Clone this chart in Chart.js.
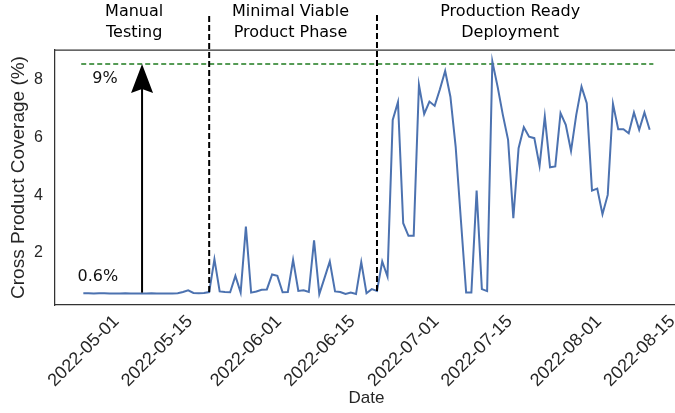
<!DOCTYPE html>
<html>
<head>
<meta charset="utf-8">
<script src="https://cdn.jsdelivr.net/npm/chart.js@4/dist/chart.umd.min.js"></script>
<style>
    html, body { margin: 0; padding: 0; background: #fff; overflow: hidden; }
    #wrap { width: 680px; height: 413px; }
</style>
</head>
<body>
<div id="wrap"><canvas id="chart"></canvas></div>
<script>
// daily coverage starting from startDate
const startDate = '2022-05-01';
const coverage = [
    0.60, 0.60, 0.59, 0.60, 0.60, 0.59, 0.59, 0.59, 0.60, 0.59,
    0.59, 0.59, 0.59, 0.60, 0.59, 0.59, 0.59, 0.59, 0.60, 0.64,
    0.70, 0.61, 0.60, 0.61, 0.64, 1.78, 0.66, 0.64, 0.63, 1.20,
    0.62, 2.91, 0.62, 0.66, 0.72, 0.73, 1.25, 1.20, 0.63, 0.64,
    1.76, 0.68, 0.70, 0.64, 2.43, 0.57, 1.13, 1.70, 0.66, 0.64,
    0.57, 0.62, 0.57, 1.68, 0.60, 0.74, 0.68, 1.70, 1.18, 6.61,
    7.23, 3.03, 2.59, 2.59, 7.83, 6.82, 7.25, 7.10, 7.68, 8.31,
    7.42, 5.69, 3.14, 0.62, 0.62, 4.16, 0.74, 0.67, 8.64, 7.77,
    6.79, 5.92, 3.20, 5.63, 6.36, 6.03, 5.98, 5.02, 6.73, 4.97,
    5.00, 6.85, 6.44, 5.54, 6.79, 7.77, 7.19, 4.16, 4.23, 3.34,
    4.01, 7.17, 6.29, 6.29, 6.15, 6.87, 6.27, 6.87, 6.27
];
const tickDates = ['2022-05-01', '2022-05-15', '2022-06-01', '2022-06-15',
    '2022-07-01', '2022-07-15', '2022-08-01', '2022-08-15'];
const yTicks = [2, 4, 6, 8];
const phaseStarts = ['2022-05-25', '2022-06-26'];
const phaseNames = [['Manual', 'Testing'], ['Minimal Viable', 'Product Phase'], ['Production Ready', 'Deployment']];
const targetLevel = 8.55;
const baseLevel = 0.62;

const DAY = 86400000;
const dayOf = (d) => (Date.parse(d) - Date.parse(startDate)) / DAY;
const dateOf = (n) => new Date(Date.parse(startDate) + n * DAY).toISOString().slice(0, 10);

const points = coverage.map((v, i) => ({ x: i, y: v }));
const lastDay = coverage.length - 1;

const annotations = {
    id: 'annotations',
    afterDatasetsDraw(chart) {
        const { ctx, chartArea, scales: { x, y } } = chart;
        ctx.save();

        // top spine
        ctx.strokeStyle = '#333';
        ctx.lineWidth = 1.25;
        ctx.beginPath();
        ctx.moveTo(chartArea.left, chartArea.top);
        ctx.lineTo(chartArea.right, chartArea.top);
        ctx.stroke();

        // phase borders
        ctx.strokeStyle = '#000';
        ctx.lineWidth = 2;
        ctx.setLineDash([6, 3]);
        phaseStarts.forEach((d) => {
            const day = dayOf(d);
            const px = x.getPixelForValue(day);
            ctx.beginPath();
            ctx.moveTo(px, y.getPixelForValue(coverage[day]));
            ctx.lineTo(px, 13);
            ctx.stroke();
        });
        ctx.setLineDash([]);

        // arrow 0.6% -> 9%
        const ax = x.getPixelForValue(11.2);
        const ay0 = y.getPixelForValue(baseLevel);
        const ay1 = y.getPixelForValue(targetLevel);
        ctx.lineWidth = 2;
        ctx.beginPath();
        ctx.moveTo(ax, ay0);
        ctx.lineTo(ax, ay1 + 20);
        ctx.stroke();
        ctx.fillStyle = '#000';
        ctx.beginPath();
        ctx.moveTo(ax, ay1);
        ctx.lineTo(ax - 11, ay1 + 29);
        ctx.lineTo(ax, ay1 + 25);
        ctx.lineTo(ax + 11, ay1 + 29);
        ctx.closePath();
        ctx.fill();

        // level labels
        ctx.font = '16px "DejaVu Sans"';
        ctx.fillStyle = '#111';
        ctx.textAlign = 'left';
        ctx.textBaseline = 'middle';
        ctx.fillText('9%', x.getPixelForValue(1.7), ay1 + 15);
        ctx.fillText('0.6%', x.getPixelForValue(-1.1), ay0 - 16);

        // phase titles
        ctx.textAlign = 'center';
        ctx.fillStyle = '#000';
        [9.7, 39.5, 81.4].forEach((day, i) => {
            const px = x.getPixelForValue(day);
            ctx.fillText(phaseNames[i][0], px, 12);
            ctx.fillText(phaseNames[i][1], px, 33);
        });

        ctx.restore();
    },
};

new Chart(document.getElementById('chart'), {
    type: 'line',
    data: {
        datasets: [
            {
                data: points,
                borderColor: '#4c72b0',
                borderWidth: 2,
                pointRadius: 0,
                tension: 0,
            },
            {
                data: [{ x: -0.4, y: targetLevel }, { x: lastDay + 0.7, y: targetLevel }],
                borderColor: '#1e7b1e',
                borderWidth: 1.5,
                borderDash: [5, 3],
                pointRadius: 0,
            },
        ],
    },
    options: {
        animation: false,
        responsive: true,
        maintainAspectRatio: false,
        layout: { padding: { top: 50, right: 2, left: 0, bottom: 0 } },
        plugins: {
            legend: { display: false },
            tooltip: { enabled: false },
        },
        scales: {
            x: {
                type: 'linear',
                min: -5.4,
                max: lastDay + 5.4,
                grid: { display: false, drawTicks: false },
                border: { display: true, color: '#333', width: 1.25 },
                afterBuildTicks: (scale) => { scale.ticks = tickDates.map((d) => ({ value: dayOf(d) })); },
                afterFit: (scale) => { scale.height = 108; },
                ticks: {
                    callback: (v) => dateOf(v),
                    minRotation: 45,
                    maxRotation: 45,
                    autoSkip: false,
                    padding: 6,
                    labelOffset: 33,
                    color: '#262626',
                    font: { family: '"Liberation Sans", Arial', size: 18 },
                },
                title: {
                    display: true,
                    text: 'Date',
                    color: '#262626',
                    padding: { top: 4, bottom: 4 },
                    font: { family: '"Liberation Sans", Arial', size: 17 },
                },
            },
            y: {
                min: 0.19,
                max: 9.04,
                grid: { display: false, drawTicks: false },
                border: { display: true, color: '#333', width: 1.25 },
                afterBuildTicks: (scale) => { scale.ticks = yTicks.map((v) => ({ value: v })); },
                afterFit: (scale) => { scale.width = 55; },
                ticks: {
                    padding: 12,
                    color: '#262626',
                    font: { family: '"Liberation Sans", Arial', size: 16 },
                },
                title: {
                    display: true,
                    text: 'Cross Product Coverage (%)',
                    color: '#262626',
                    padding: { top: 7, bottom: 0 },
                    font: { family: '"Liberation Sans", Arial', size: 19 },
                },
            },
        },
    },
    plugins: [annotations],
});
</script>
</body>
</html>
